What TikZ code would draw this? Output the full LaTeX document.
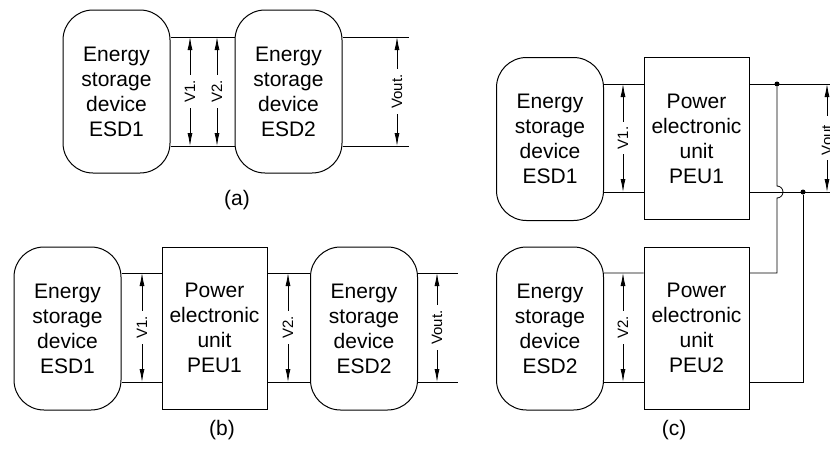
\documentclass[tikz,border=0pt]{standalone}
\usepackage{fontspec}
\setmainfont{Liberation Sans}
\usetikzlibrary{arrows.meta}

\tikzset{
  esd/.style={draw,line width=1pt,rounded corners=30pt,minimum width=107pt,
    minimum height=163pt,align=center,font=\fontsize{21}{25}\selectfont},
  peu/.style={draw,line width=1pt,minimum width=105pt,minimum height=162pt,
    align=center,font=\fontsize{21}{25}\selectfont},
  volt/.style={{Latex[length=13pt,width=5pt]}-{Latex[length=13pt,width=5pt]}},
  vlab/.style={midway,rotate=90,fill=white,inner sep=5pt,
    font=\fontsize{15}{15}\selectfont},
  dot/.style={circle,fill,inner sep=0pt,minimum size=5pt},
  panel/.style={font=\fontsize{21}{25}\selectfont}
}

\begin{document}
\begin{tikzpicture}[x=1pt,y=-1pt,line width=.8pt]
  \useasboundingbox (0,0) rectangle (830,448);

  % (a)
  \node[esd] (aE1) at (116.5,91.5) {Energy\\storage\\device\\ESD1};
  \node[esd] (aE2) at (288.5,91.5) {Energy\\storage\\device\\ESD2};
  \coordinate (aT) at (409,37);
  \coordinate (aB) at (409,146);
  \draw (aE1.east |- aT) -- (aE2.west |- aT) (aE2.east |- aT) -- (aT);
  \draw (aE1.east |- aB) -- (aE2.west |- aB) (aE2.east |- aB) -- (aB);
  \draw[volt] (190,0 |- aT) -- node[vlab] {V1.} (190,0 |- aB);
  \draw[volt] (217,0 |- aT) -- node[vlab] {V2.} (217,0 |- aB);
  \draw[volt] (397,0 |- aT) -- node[vlab] {Vout.} (397,0 |- aB);
  \node[panel] (aCap) at (237,200) {(a)};

  % (b)
  \node[esd] (bE1) at (67.5,328.5) {Energy\\storage\\device\\ESD1};
  \node[peu] (bP1) at (214.5,328) {Power\\electronic\\unit\\PEU1};
  \node[esd] (bE2) at (364,328.5) {Energy\\storage\\device\\ESD2};
  \coordinate (bT) at (458,273);
  \coordinate (bB) at (458,382);
  \draw (bE1.east |- bT) -- (bP1.west |- bT) (bP1.east |- bT) -- (bE2.west |- bT)
    (bE2.east |- bT) -- (bT);
  \draw (bE1.east |- bB) -- (bP1.west |- bB) (bP1.east |- bB) -- (bE2.west |- bB)
    (bE2.east |- bB) -- (bB);
  \draw[volt] (142,0 |- bT) -- node[vlab] {V1.} (142,0 |- bB);
  \draw[volt] (288,0 |- bT) -- node[vlab] {V2.} (288,0 |- bB);
  \draw[volt] (437,0 |- bT) -- node[vlab] {Vout.} (437,0 |- bB);
  \node[panel] (bCap) at (222,430) {(b)};

  % (c)
  \node[esd] (cE1) at (550,139) {Energy\\storage\\device\\ESD1};
  \node[peu] (cP1) at (696.5,138.5) {Power\\electronic\\unit\\PEU1};
  \node[esd] (cE2) at (550,328.5) {Energy\\storage\\device\\ESD2};
  \node[peu] (cP2) at (696.5,328) {Power\\electronic\\unit\\PEU2};
  \node[dot] (cJ1) at (777,84) {};
  \node[dot] (cJ2) at (803,192) {};
  \coordinate (cT) at (830,84);
  \coordinate (cB) at (830,192);
  \draw (cE1.east |- cT) -- (cP1.west |- cT) (cP1.east |- cT) -- (cT);
  \draw (cE1.east |- cB) -- (cP1.west |- cB) (cP1.east |- cB) -- (cB);
  \draw (cE2.east |- 0,273) -- (cP2.west |- 0,273) (cP2.east |- 0,273) -- (cJ1 |- 0,273)
    -- (cJ1 |- 0,198) arc[start angle=-90,end angle=90,radius=6pt] -- (cJ1);
  \draw (cE2.east |- 0,382) -- (cP2.west |- 0,382) (cP2.east |- 0,382) -- (cJ2 |- 0,382)
    -- (cJ2);
  \draw[volt] (623,0 |- cT) -- node[vlab] {V1.} (623,0 |- cB);
  \draw[volt] (623,273) -- node[vlab] {V2.} (623,382);
  \draw[volt] (827,0 |- cT) -- node[vlab] {Vout.} (827,0 |- cB);
  \node[panel] (cCap) at (674,430) {(c)};
\end{tikzpicture}
\end{document}
